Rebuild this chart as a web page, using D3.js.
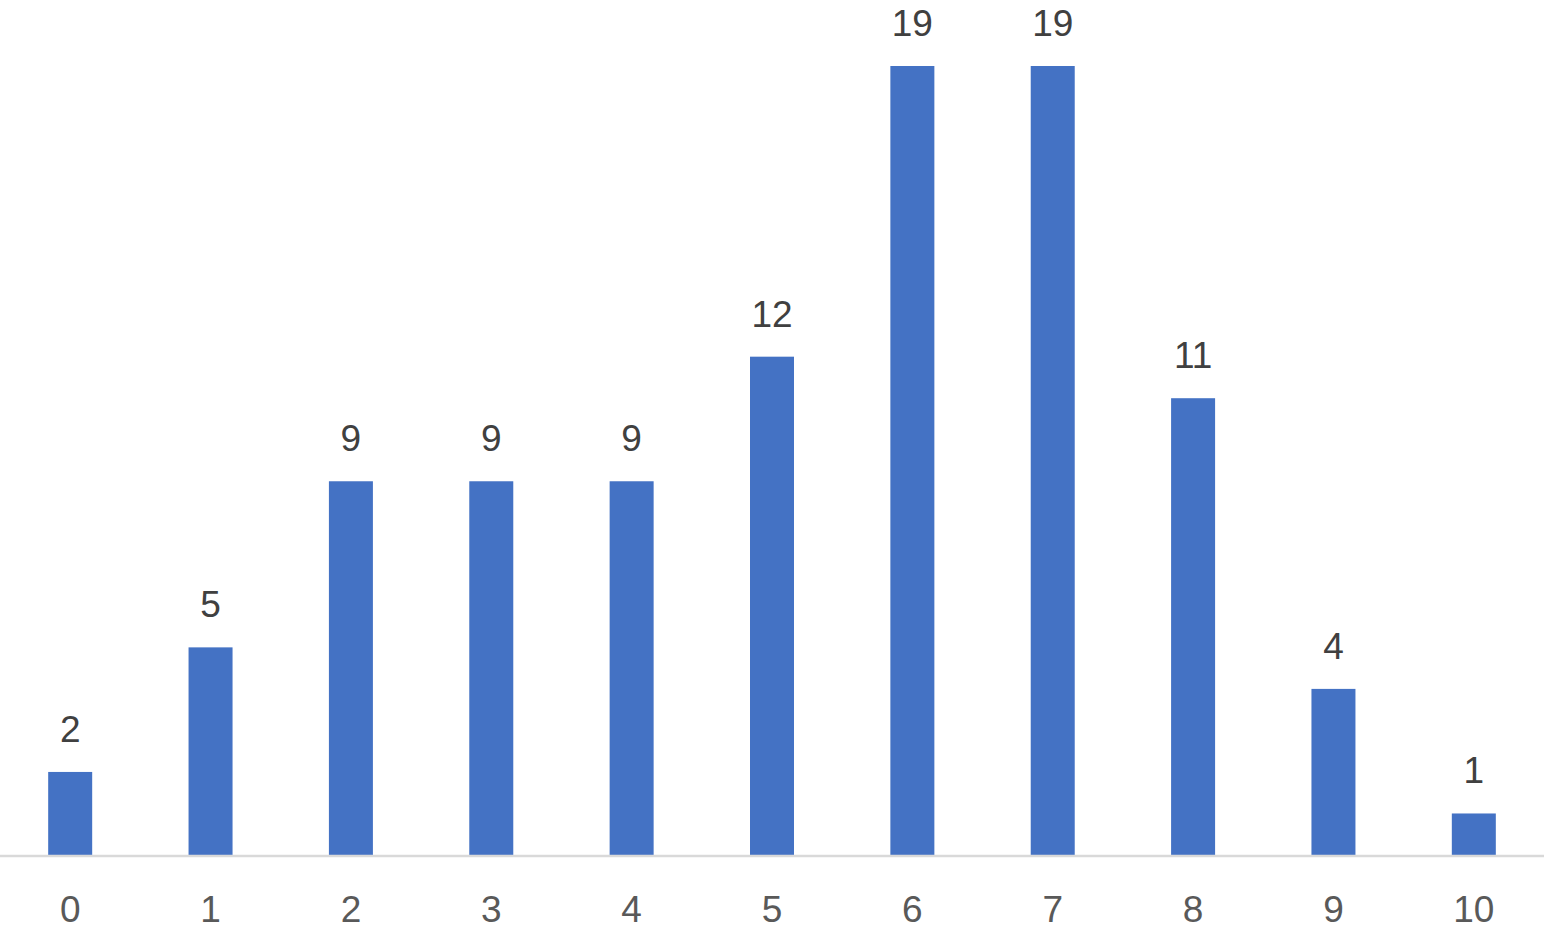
<!DOCTYPE html>
<html>
<head>
<meta charset="utf-8">
<script src="https://cdn.jsdelivr.net/npm/d3@7"></script>
<style>
html,body{margin:0;padding:0;background:#fff;}
svg{display:block;}
</style>
</head>
<body>
<svg id="chart" width="1544" height="931"></svg>
<script>
const categories = ["0","1","2","3","4","5","6","7","8","9","10"];
const values = [2,5,9,9,9,12,19,19,11,4,1];

const W = 1544, H = 931;
const svg = d3.select("#chart");
const x = d3.scaleBand().domain(categories).range([0, 1544]).padding(0);
const y = d3.scaleLinear().domain([0, 19]).range([855, 66]);
const barW = 44;
const font = "'Liberation Sans', Arial, Helvetica, sans-serif";

svg.append("g").selectAll("rect").data(values).join("rect")
  .attr("x", (d,i) => x(categories[i]) + x.bandwidth()/2 - barW/2)
  .attr("y", d => y(d))
  .attr("width", barW)
  .attr("height", d => y(0) - y(d))
  .attr("fill", "#4472C4");

// axis
const axis = svg.append("g").attr("transform", `translate(0,${y(0)+1})`)
  .call(d3.axisBottom(x).tickSize(0).tickPadding(0));
axis.select(".domain").attr("stroke", "#d9d9d9").attr("stroke-width", 2.5)
  .attr("d", `M0,0H${W}`);
axis.selectAll(".tick text")
  .attr("y", 66).attr("dy", null)
  .attr("fill", "#595959")
  .style("font-family", font).style("font-size", "37px");

// data labels
svg.append("g").selectAll("text").data(values).join("text")
  .attr("x", (d,i) => x(categories[i]) + x.bandwidth()/2)
  .attr("y", d => y(d) - 30)
  .attr("text-anchor", "middle")
  .attr("fill", "#404040")
  .style("font-family", font).style("font-size", "37px")
  .text(d => d);
</script>
</body>
</html>
